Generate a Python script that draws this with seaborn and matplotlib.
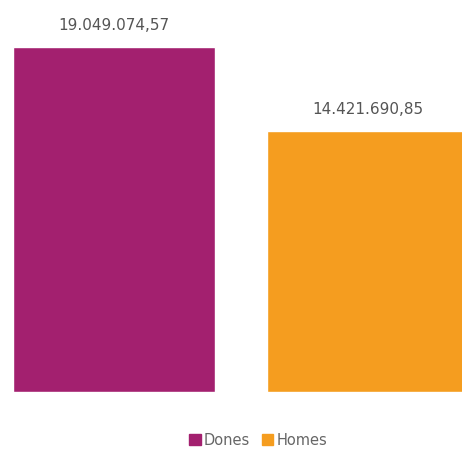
import matplotlib
matplotlib.use("Agg")
import matplotlib.pyplot as plt
import seaborn as sns
import pandas as pd
from matplotlib.patches import Patch

categories = ["Dones", "Homes"]
values = [19049074.57, 14421690.85]
labels = ["19.049.074,57", "14.421.690,85"]
colors = ["#A3206F", "#F59D1F"]

sns.set_theme(style="white")
plt.rcParams['font.family'] = ['DejaVu Sans']

fig = plt.figure(figsize=(4.62, 4.52), dpi=100)
ax = fig.add_axes([0, 59/452, 1, 393/452])
df = pd.DataFrame({"cat": categories, "val": values})
sns.barplot(data=df, x="cat", y="val", hue="cat", palette=colors, width=0.795,
            legend=False, ax=ax, saturation=1)
ax.set_xlim(-0.4488, 1.3701)
ax.set_ylim(0, 19049074.57 * 393 / 345)
for i, (v, lab) in enumerate(zip(values, labels)):
    ax.annotate(lab, (i, v), xytext=(0, 11), textcoords="offset points",
                ha="center", va="bottom", color="#555555", fontsize=11)
ax.set_axis_off()
handles = [Patch(color=c, label=l) for c, l in zip(colors, categories)]
fig.legend(handles=handles, loc="center", bbox_to_anchor=(258/462, 1 - 441/452),
           ncol=2, frameon=False, handlelength=0.8, handleheight=0.8,
           handletextpad=0.2, columnspacing=0.8, fontsize=10.5,
           labelcolor="#666666")
fig.savefig("out.png", dpi=100)
